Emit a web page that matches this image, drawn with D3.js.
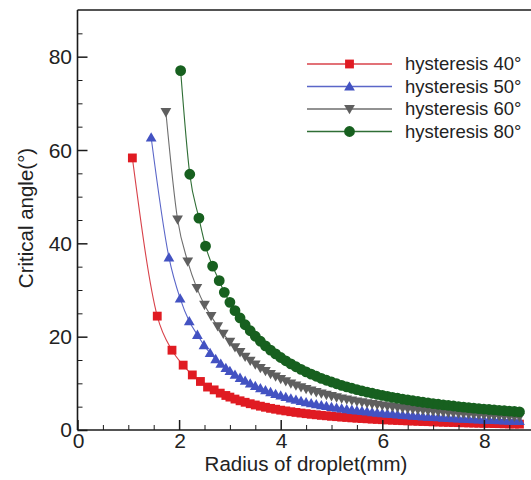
<!DOCTYPE html>
<html>
<head>
<meta charset="utf-8">
<script src="https://cdn.jsdelivr.net/npm/d3@7/dist/d3.min.js"></script>
<style>
  html, body { margin: 0; padding: 0; background: #fff; }
  svg { display: block; font-family: "Liberation Sans", Arial, Helvetica, sans-serif; }
</style>
</head>
<body>
<svg id="chart" width="531" height="480"></svg>
<script>
// ---------------- data ----------------
const xTicks = [0, 2, 4, 6, 8];
const yTicks = [0, 20, 40, 60, 80];
const seriesNames = ["hysteresis 40\u00B0", "hysteresis 50\u00B0", "hysteresis 60\u00B0", "hysteresis 80\u00B0"];

// shared radius grid of the dense tail (mm)
const radiusTail = [3.0,3.1,3.2,3.3,3.4,3.5,3.6,3.7,3.8,3.9,
  4.0,4.1,4.2,4.3,4.4,4.5,4.6,4.7,4.8,4.9,
  5.0,5.1,5.2,5.3,5.4,5.5,5.6,5.7,5.8,5.9,
  6.0,6.1,6.2,6.3,6.4,6.5,6.6,6.7,6.8,6.9,
  7.0,7.1,7.2,7.3,7.4,7.5,7.6,7.7,7.8,7.9,
  8.0,8.1,8.2,8.3,8.4,8.5,8.6,8.7];

// separated leading points of every series (mm)
const radius40 = [1.08,1.57,1.86,2.08,2.26,2.42,2.56,2.69,2.81,2.92];
const radius50 = [1.45,1.80,2.02,2.20,2.36,2.49,2.61,2.72,2.82,2.92];
const radius60 = [1.74,1.97,2.17,2.35,2.50,2.63,2.76,2.87];
const radius80 = [2.03,2.21,2.39,2.52,2.66,2.79,2.89];

// critical angle (deg): leading points followed by the tail values
const angle40 = [58.3,24.4,17.1,13.9,11.8,10.4,9.2,8.6,7.9,7.4,
  7.05,6.63,6.26,5.94,5.63,5.36,5.10,4.87,4.64,4.45,
  4.25,4.09,3.92,3.77,3.63,3.50,3.37,3.26,3.14,3.05,
  2.94,2.86,2.76,2.69,2.60,2.53,2.46,2.40,2.33,2.27,
  2.21,2.16,2.10,2.05,2.00,1.96,1.91,1.87,1.82,1.79,
  1.75,1.71,1.67,1.64,1.61,1.58,1.54,1.52,1.48,1.46,
  1.43,1.41,1.38,1.36,1.33,1.31,1.28,1.26];
const angle50 = [62.7,37.0,28.2,23.3,20.4,18.2,16.5,15.2,14.2,13.3,
  12.64,11.87,11.19,10.55,9.98,9.45,8.98,8.53,8.13,7.75,
  7.40,7.07,6.78,6.49,6.22,5.98,5.75,5.54,5.33,5.15,
  4.96,4.80,4.63,4.48,4.33,4.21,4.07,3.96,3.84,3.72,
  3.62,3.52,3.43,3.33,3.25,3.16,3.08,3.00,2.93,2.86,
  2.80,2.73,2.66,2.60,2.54,2.49,2.43,2.38,2.33,2.28,
  2.23,2.19,2.14,2.11,2.06,2.02,1.98,1.94];
const angle60 = [68.1,45.1,36.1,30.4,26.8,24.4,22.2,20.6,
  18.91,17.73,16.67,15.70,14.83,14.02,13.29,12.62,12.00,11.43,
  10.90,10.41,9.95,9.53,9.13,8.77,8.42,8.10,7.79,7.51,
  7.24,6.98,6.75,6.52,6.30,6.10,5.91,5.73,5.55,5.39,
  5.24,5.08,4.94,4.81,4.67,4.55,4.43,4.31,4.20,4.10,
  3.99,3.90,3.81,3.71,3.63,3.55,3.46,3.40,3.32,3.24,
  3.18,3.11,3.05,2.98,2.92,2.86,2.81,2.75];
const angle80 = [77.0,54.8,45.4,39.4,35.1,32.0,29.5,
  27.36,25.58,24.00,22.56,21.27,20.09,19.02,18.03,17.13,16.30,
  15.54,14.83,14.17,13.56,13.00,12.46,11.97,11.51,11.07,10.66,
  10.28,9.91,9.57,9.25,8.94,8.65,8.38,8.12,7.87,7.63,
  7.41,7.19,6.99,6.80,6.61,6.44,6.27,6.11,5.95,5.80,
  5.66,5.52,5.39,5.26,5.14,5.02,4.91,4.80,4.69,4.59,
  4.49,4.39,4.30,4.21,4.13,4.04,3.96,3.89];

// ---------------- styles ----------------
const colors = ["#e01b22", "#4352c2", "#5f5f5f", "#17601f"];
const lineColors = ["#d8424a", "#5a66c8", "#6e6e6e", "#2f6e35"];
const shapes = ["square", "up", "down", "circle"];

const series = [
  { name: seriesNames[0], xs: radius40.concat(radiusTail), ys: angle40 },
  { name: seriesNames[1], xs: radius50.concat(radiusTail), ys: angle50 },
  { name: seriesNames[2], xs: radius60.concat(radiusTail), ys: angle60 },
  { name: seriesNames[3], xs: radius80.concat(radiusTail), ys: angle80 }
].map((s, i) => ({ ...s, color: colors[i], lineColor: lineColors[i], shape: shapes[i],
  points: s.xs.map((x, j) => ({ x, y: s.ys[j] })) }));

// ---------------- chart ----------------
const svg = d3.select("#chart");
const x = d3.scaleLinear().domain([0, 9]).range([77.5, 534.7]);
const y = d3.scaleLinear().domain([0, 90]).range([430, 10]);
const axisColor = "#1a1a1a";

function symbolPath(shape) {
  if (shape === "square") return d3.symbol(d3.symbolSquare, 78)();
  if (shape === "up") return d3.symbol(d3.symbolTriangle, 50)();
  if (shape === "down") return d3.symbol(d3.symbolTriangle, 50)();
  return d3.symbol(d3.symbolCircle, 92)();
}
function drawMarker(g, shape, color, cx, cy) {
  const rot = shape === "down" ? " rotate(180)" : "";
  const dy = shape === "up" ? 1 : (shape === "down" ? -1 : 0);
  g.append("path")
    .attr("d", symbolPath(shape))
    .attr("transform", `translate(${cx},${cy + dy})${rot}`)
    .attr("fill", color);
}

const plot = svg.append("g");
const line = d3.line().curve(d3.curveMonotoneX).x(d => x(d.x)).y(d => y(d.y));

series.forEach(s => {
  const g = plot.append("g");
  g.append("path").datum(s.points)
    .attr("d", line)
    .attr("fill", "none")
    .attr("stroke", s.lineColor)
    .attr("stroke-width", 1.1);
  s.points.forEach(p => drawMarker(g, s.shape, s.color, x(p.x), y(p.y)));
});

// axes frame
const frame = svg.append("g");
frame.append("line").attr("x1", x(0)).attr("x2", x(9)).attr("y1", y(90)).attr("y2", y(90))
  .attr("stroke", axisColor).attr("stroke-width", 1.6);
frame.append("line").attr("x1", x(0)).attr("x2", x(9)).attr("y1", y(0)).attr("y2", y(0))
  .attr("stroke", axisColor).attr("stroke-width", 1.6);
frame.append("line").attr("x1", x(0)).attr("x2", x(0)).attr("y1", y(0)).attr("y2", y(90))
  .attr("stroke", axisColor).attr("stroke-width", 1.6);
frame.append("line").attr("x1", x(9)).attr("x2", x(9)).attr("y1", y(0)).attr("y2", y(90))
  .attr("stroke", axisColor).attr("stroke-width", 1.6);

// x axis (ticks pointing inward)
const xAxis = d3.axisTop(x).tickValues(xTicks).tickSize(10).tickFormat("");
const xMinor = d3.axisTop(x).tickValues(d3.range(0.5, 9, 1).concat([1,3,5,7])).tickSize(5).tickFormat("");
svg.append("g").attr("transform", `translate(0,${y(0)})`).call(xAxis)
  .call(g => g.select(".domain").remove())
  .call(g => g.selectAll("line").attr("stroke", axisColor).attr("stroke-width", 1.5));
svg.append("g").attr("transform", `translate(0,${y(0)})`).call(xMinor)
  .call(g => g.select(".domain").remove())
  .call(g => g.selectAll("line").attr("stroke", axisColor).attr("stroke-width", 1));
svg.append("g").selectAll("text").data(xTicks).join("text")
  .attr("x", d => x(d) + 1).attr("y", 448)
  .attr("text-anchor", "middle")
  .attr("font-size", 21).attr("fill", "#222")
  .text(d => d);

// y axis
const yAxis = d3.axisRight(y).tickValues(yTicks).tickSize(10).tickFormat("");
const yMinor = d3.axisRight(y).tickValues(d3.range(5, 90, 5).filter(v => v % 20 !== 0)).tickSize(5).tickFormat("");
svg.append("g").attr("transform", `translate(${x(0)},0)`).call(yAxis)
  .call(g => g.select(".domain").remove())
  .call(g => g.selectAll("line").attr("stroke", axisColor).attr("stroke-width", 1.5));
svg.append("g").attr("transform", `translate(${x(0)},0)`).call(yMinor)
  .call(g => g.select(".domain").remove())
  .call(g => g.selectAll("line").attr("stroke", axisColor).attr("stroke-width", 1));
svg.append("g").selectAll("text").data(yTicks).join("text")
  .attr("x", 72).attr("y", d => y(d) - (d === 0 ? 1 : 0))
  .attr("dy", "0.36em")
  .attr("text-anchor", "end")
  .attr("font-size", 21).attr("fill", "#222")
  .text(d => d);

// axis titles
svg.append("text")
  .attr("x", 306).attr("y", 471)
  .attr("text-anchor", "middle")
  .attr("font-size", 20.5).attr("fill", "#222")
  .text("Radius of droplet(mm)");
svg.append("text")
  .attr("transform", "translate(33,218) rotate(-90)")
  .attr("text-anchor", "middle")
  .attr("font-size", 20.5).attr("fill", "#222")
  .text("Critical angle(\u00B0)");

// legend
const legendRows = [64, 86.5, 109, 131.5];
const legend = svg.append("g");
series.forEach((s, i) => {
  const ly = legendRows[i];
  legend.append("line").attr("x1", 307).attr("x2", 392).attr("y1", ly).attr("y2", ly)
    .attr("stroke", s.lineColor).attr("stroke-width", 1.6);
  drawMarker(legend, s.shape, s.color, 349.5, ly);
  legend.append("text").attr("x", 405).attr("y", ly).attr("dy", "0.35em")
    .attr("font-size", 18.5).attr("fill", "#222")
    .text(s.name);
});
</script>
</body>
</html>
